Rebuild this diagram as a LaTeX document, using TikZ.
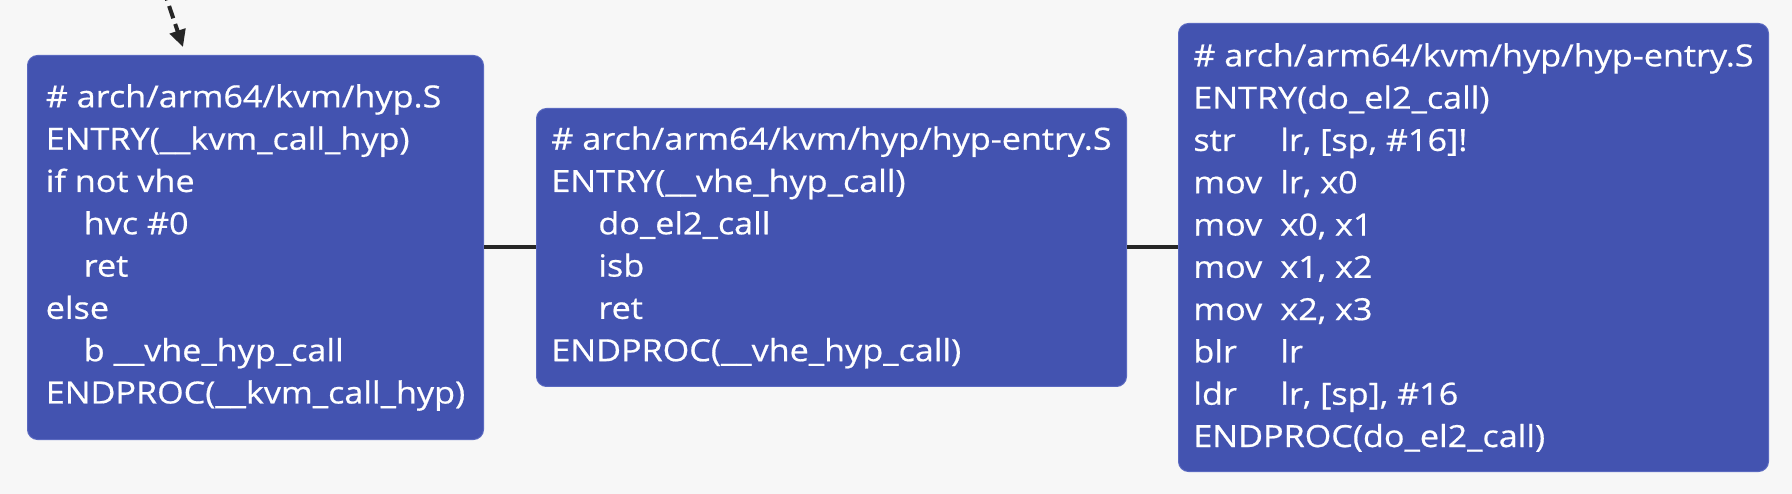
\documentclass[tikz,border=0pt]{standalone}
\usepackage{fontspec}
\setmainfont{Open Sans}[FakeStretch=1.12,FakeBold=0.6]
\usetikzlibrary{arrows.meta}
\definecolor{bg}{HTML}{F7F7F7}
\definecolor{boxblue}{HTML}{4353B0}
\definecolor{boxedge}{HTML}{5A69C0}
\definecolor{ink}{HTML}{262626}
\newcommand{\ind}[1]{\hspace*{#1pt}}
\newcommand{\opcol}[1]{\makebox[87pt][l]{#1}}
\begin{document}
\begin{tikzpicture}[x=1pt,y=-1pt,
  codebox/.style={draw=boxedge, line width=1pt, fill=boxblue, rounded corners=10pt,
    text=white, align=left, font=\fontsize{30.5}{42.3}\selectfont, inner sep=0pt,
    anchor=north west},
  link/.style={draw=ink, line width=4pt},
  callarrow/.style={draw=ink, line width=4pt, dash pattern=on 13pt off 6pt,
    -{Triangle[length=17pt,width=16pt]}}]
\fill[bg] (0,0) rectangle (1792,494);
\useasboundingbox (0,0) rectangle (1792,494);

\node[codebox, minimum width=456pt, minimum height=384pt] (hyp) at (27,55) {%
\# arch/arm64/kvm/hyp.S\\
ENTRY(\_\_kvm\_call\_hyp)\\
if not vhe\\
\ind{38}hvc \#0\\
\ind{38}ret\\
else\\
\ind{38}b \_\_vhe\_hyp\_call\\
ENDPROC(\_\_kvm\_call\_hyp)};

\node[codebox, minimum width=590pt, minimum height=278pt] (vhe) at (536,108) {%
\# arch/arm64/kvm/hyp/hyp-entry.S\\
ENTRY(\_\_vhe\_hyp\_call)\\
\ind{47}do\_el2\_call\\
\ind{47}isb\\
\ind{47}ret\\
ENDPROC(\_\_vhe\_hyp\_call)};

\node[codebox, minimum width=590pt, minimum height=448pt] (el2) at (1178,23) {%
\# arch/arm64/kvm/hyp/hyp-entry.S\\
ENTRY(do\_el2\_call)\\
\opcol{str}lr, [sp, \#16]!\\
\opcol{mov}lr, x0\\
\opcol{mov}x0, x1\\
\opcol{mov}x1, x2\\
\opcol{mov}x2, x3\\
\opcol{blr}lr\\
\opcol{ldr}lr, [sp], \#16\\
ENDPROC(do\_el2\_call)};

\draw[link] (hyp.east) -- (vhe.west);
\draw[link] (vhe.east) -- (el2.west);

\coordinate (src) at (163,-12);
\coordinate (tip) at (183,47);
\draw[callarrow] (src) -- (tip);
\end{tikzpicture}
\end{document}
